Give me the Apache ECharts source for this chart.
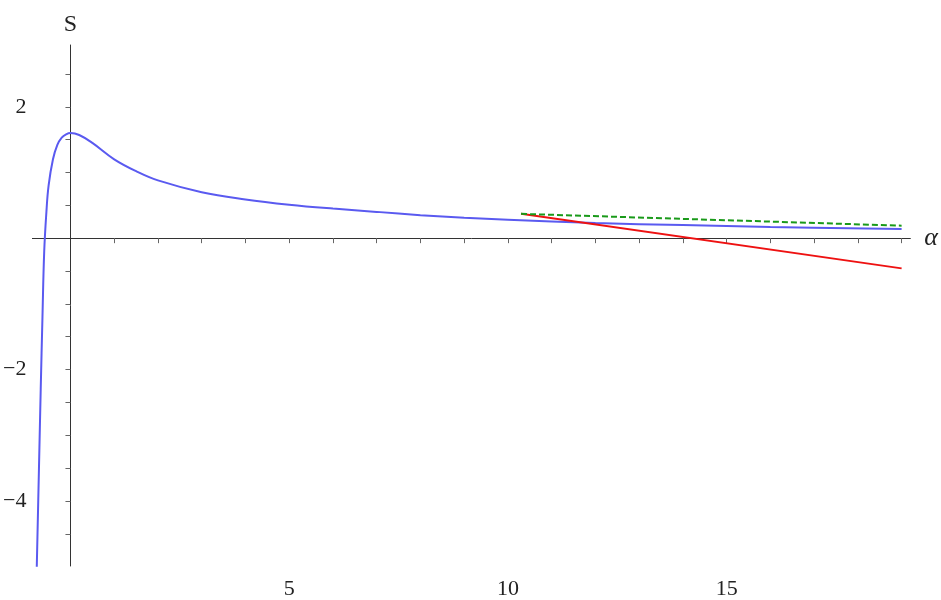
<!DOCTYPE html>
<html><head><meta charset="utf-8">
<script src="https://cdn.jsdelivr.net/npm/echarts@6/dist/echarts.min.js"></script>
<style>html,body{margin:0;padding:0;background:#fff}#c{width:941px;height:600px}</style>
</head><body><div id="c"></div>
<script>
const blueX = [-0.77,-0.72,-0.68,-0.64,-0.6,-0.55,-0.5,-0.4,-0.3,-0.2,-0.1,0,0.2,0.5,1,1.5,2,3,4,5,6,7,8,9,10,12,14,16,19];
const blueY = [-5,-3.5,-2.3,-1.2,-0.2,0.4,0.8,1.2,1.42,1.53,1.58,1.6,1.57,1.45,1.2,1.02,0.88,0.7,0.59,0.51,0.45,0.4,0.35,0.31,0.28,0.23,0.2,0.17,0.14];
const redX = [10.3,19];
const redY = [0.37,-0.46];
const greenX = [10.3,19];
const greenY = [0.37,0.19];
const xTickLabels = [5,10,15];
const yTickLabels = [-4,-2,2];
const xTicks = [1,2,3,4,5,6,7,8,9,10,11,12,13,14,15,16,17,18,19];
const yTicks = [-4.5,-4,-3.5,-3,-2.5,-2,-1.5,-1,-0.5,0.5,1,1.5,2,2.5];
const zip=(a,b)=>a.map((v,i)=>[v,b[i]]);
const font='Liberation Serif';
const chart=echarts.init(document.getElementById('c'));
chart.setOption({
  animation:false,
  grid:{left:0,right:22,top:45,bottom:0,containLabel:false},
  xAxis:{type:'value',min:-0.87,max:19.2,
    axisLine:{onZero:true,lineStyle:{color:'#333',width:1}},
    axisTick:{length:5,customValues:xTicks,lineStyle:{color:'#666'}},
    splitLine:{show:false},
    axisLabel:{fontFamily:font,fontSize:22,color:'#222',margin:12,customValues:xTickLabels},
    name:'α',nameGap:14,nameTextStyle:{fontFamily:font,fontSize:26,fontStyle:'italic',color:'#222',verticalAlign:'middle'}},
  yAxis:{type:'value',min:-4.99,max:2.94,
    axisLine:{onZero:true,lineStyle:{color:'#333',width:1}},
    axisTick:{length:5,customValues:yTicks,lineStyle:{color:'#666'}},
    splitLine:{show:false},
    axisLabel:{fontFamily:font,fontSize:22,color:'#222',margin:6,customValues:yTickLabels,
      formatter:v=>(v<0?'−'+(-v):String(v))},
    name:'S',nameGap:8,nameTextStyle:{fontFamily:font,fontSize:24,color:'#222',align:'center'}},
  series:[
    {type:'line',data:zip(blueX,blueY),smooth:0.4,symbol:'none',lineStyle:{color:'#5a5af0',width:2}},
    {type:'line',data:zip(redX,redY),symbol:'none',lineStyle:{color:'#ee1111',width:2}},
    {type:'line',data:zip(greenX,greenY),symbol:'none',lineStyle:{color:'#1a9a1a',width:2,type:[6,3]}}
  ]
});
</script></body></html>
